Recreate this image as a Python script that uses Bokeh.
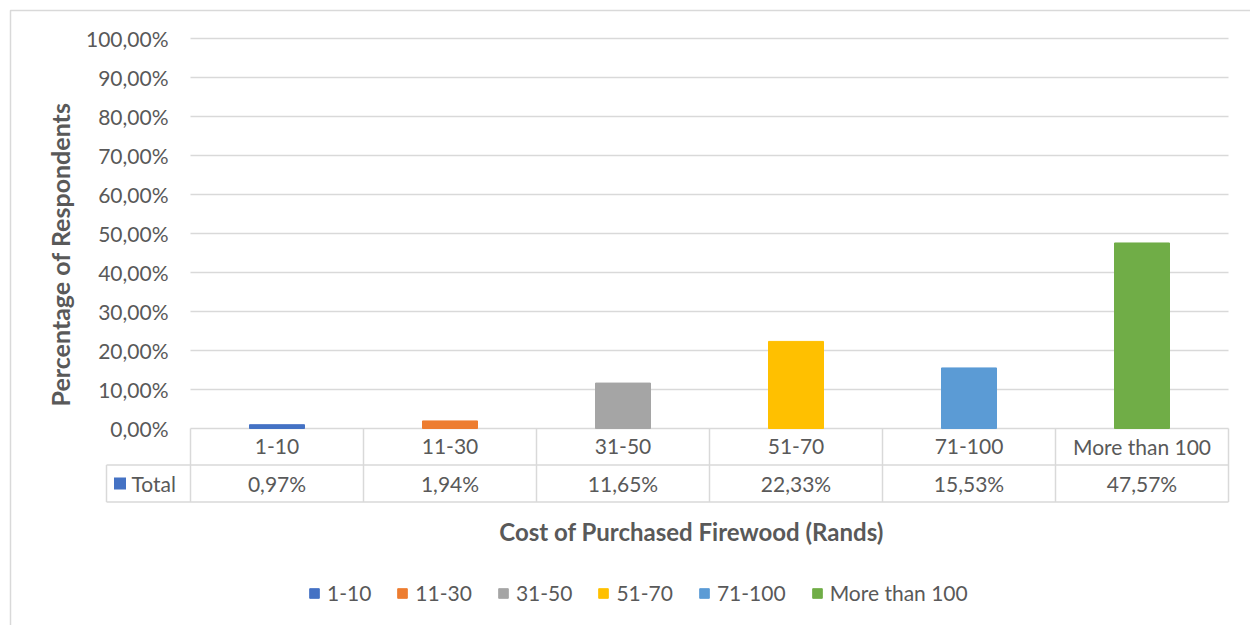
import numpy as np
from bokeh.plotting import figure
from bokeh.models import Range1d, ColumnDataSource, Legend, LegendItem
from bokeh.core.properties import value
from bokeh.embed import file_html
from bokeh.resources import INLINE

# ---------------- data ----------------
categories = ["1-10", "11-30", "31-50", "51-70", "71-100", "More than 100"]
percent_values = [0.97, 1.94, 11.65, 22.33, 15.53, 47.57]
value_labels = ["0,97%", "1,94%", "11,65%", "22,33%", "15,53%", "47,57%"]
bar_colors = ["#4472C4", "#ED7D31", "#A5A5A5", "#FFC000", "#5B9BD5", "#70AD47"]
y_ticks = [0, 10, 20, 30, 40, 50, 60, 70, 80, 90, 100]
y_tick_labels = ["0,00%", "10,00%", "20,00%", "30,00%", "40,00%", "50,00%",
                 "60,00%", "70,00%", "80,00%", "90,00%", "100,00%"]
series_name = "Total"
x_title = "Cost of Purchased Firewood (Rands)"
y_title = "Percentage of  Respondents"

# ---------------- layout (page pixels) ----------------
W, H = 1250, 625
PAGE = 0
COL_L, COL_R = 190, 1228      # plot-area / table column edges
Y0, Y100 = 428, 38            # 0 % and 100 % lines
n = len(categories)
px_x = (COL_R - COL_L) / n
px_y = (Y0 - Y100) / 100.0


def dx(px):
    return (px - COL_L) / px_x


def dy(py):
    return (Y0 - py) / px_y


FONT = value("Lato")
TXT = "#595959"
GRID = "#D9D9D9"
FS = value("21px")
FS_T = value("24px")

p = figure(width=W, height=H,
           x_range=Range1d(dx(PAGE), dx(PAGE + W)),
           y_range=Range1d(dy(PAGE + H), dy(PAGE)),
           x_axis_location=None, y_axis_location=None,
           output_backend="svg", toolbar_location=None,
           min_border=0)
p.grid.visible = False
p.outline_line_color = None
p.background_fill_color = "white"
p.border_fill_color = "white"

# chart border
p.quad(left=[dx(10)], right=[dx(1300)], top=[dy(10)], bottom=[dy(700)],
       fill_color=None, line_color=GRID, line_width=1.5)

# gridlines
p.segment(x0=[0] * len(y_ticks), x1=[n] * len(y_ticks), y0=y_ticks, y1=y_ticks,
          line_color=GRID, line_width=1.5)

# tick labels
p.text(x=[dx(168)] * len(y_ticks), y=y_ticks, text=y_tick_labels,
       text_align="right", text_baseline="middle", text_font=FONT,
       text_font_size=FS, text_color=TXT)

# bars
x_centers = [i + 0.5 for i in range(n)]
src = ColumnDataSource(dict(x=x_centers, top=percent_values, color=bar_colors,
                            cat=categories))
bars = p.vbar(x="x", top="top", bottom=0, width=55 / px_x, color="color",
              source=src)

# data table
row1, row2 = dy(464.5), dy(501.5)
left_cell = dx(106)
p.segment(x0=[left_cell, left_cell], x1=[n, n], y0=[row1, row2], y1=[row1, row2],
          line_color=GRID, line_width=1.5)
p.segment(x0=list(range(n + 1)), x1=list(range(n + 1)),
          y0=[0] * (n + 1), y1=[row2] * (n + 1), line_color=GRID, line_width=1.5)
p.segment(x0=[left_cell], x1=[left_cell], y0=[row1], y1=[row2],
          line_color=GRID, line_width=1.5)

p.text(x=x_centers, y=[dy(446)] * n, text=categories, text_align="center",
       text_baseline="middle", text_font=FONT, text_font_size=FS, text_color=TXT)
p.text(x=x_centers, y=[dy(483)] * n, text=value_labels, text_align="center",
       text_baseline="middle", text_font=FONT, text_font_size=FS, text_color=TXT)
p.scatter(x=[dx(119.5)], y=[dy(483)], marker="square", size=12,
          color=bar_colors[0], line_color=None)
p.text(x=[dx(131)], y=[dy(483)], text=[series_name], text_align="left",
       text_baseline="middle", text_font=FONT, text_font_size=FS, text_color=TXT)

# axis titles
p.text(x=[dx(59)], y=[dy(251)], text=[y_title], angle=np.pi / 2,
       text_align="center", text_baseline="middle", text_font=FONT,
       text_font_size=value("25px"), text_font_style=value("bold"), text_color=TXT)
p.text(x=[dx(691)], y=[dy(531)], text=[x_title], text_align="center",
       text_baseline="middle", text_font=FONT, text_font_size=FS_T,
       text_font_style=value("bold"), text_color=TXT)

# legend
items = [LegendItem(label=c, renderers=[bars], index=i)
         for i, c in enumerate(categories)]
legend = Legend(items=items, orientation="horizontal", location=(308, 20),
                glyph_width=12, glyph_height=12, label_standoff=7, spacing=25,
                padding=0, margin=0, border_line_color=None,
                background_fill_alpha=0, label_text_font="Lato",
                label_text_font_size="21px", label_text_color=TXT)
p.add_layout(legend)

open("out.html", "w").write(file_html(p, INLINE))
